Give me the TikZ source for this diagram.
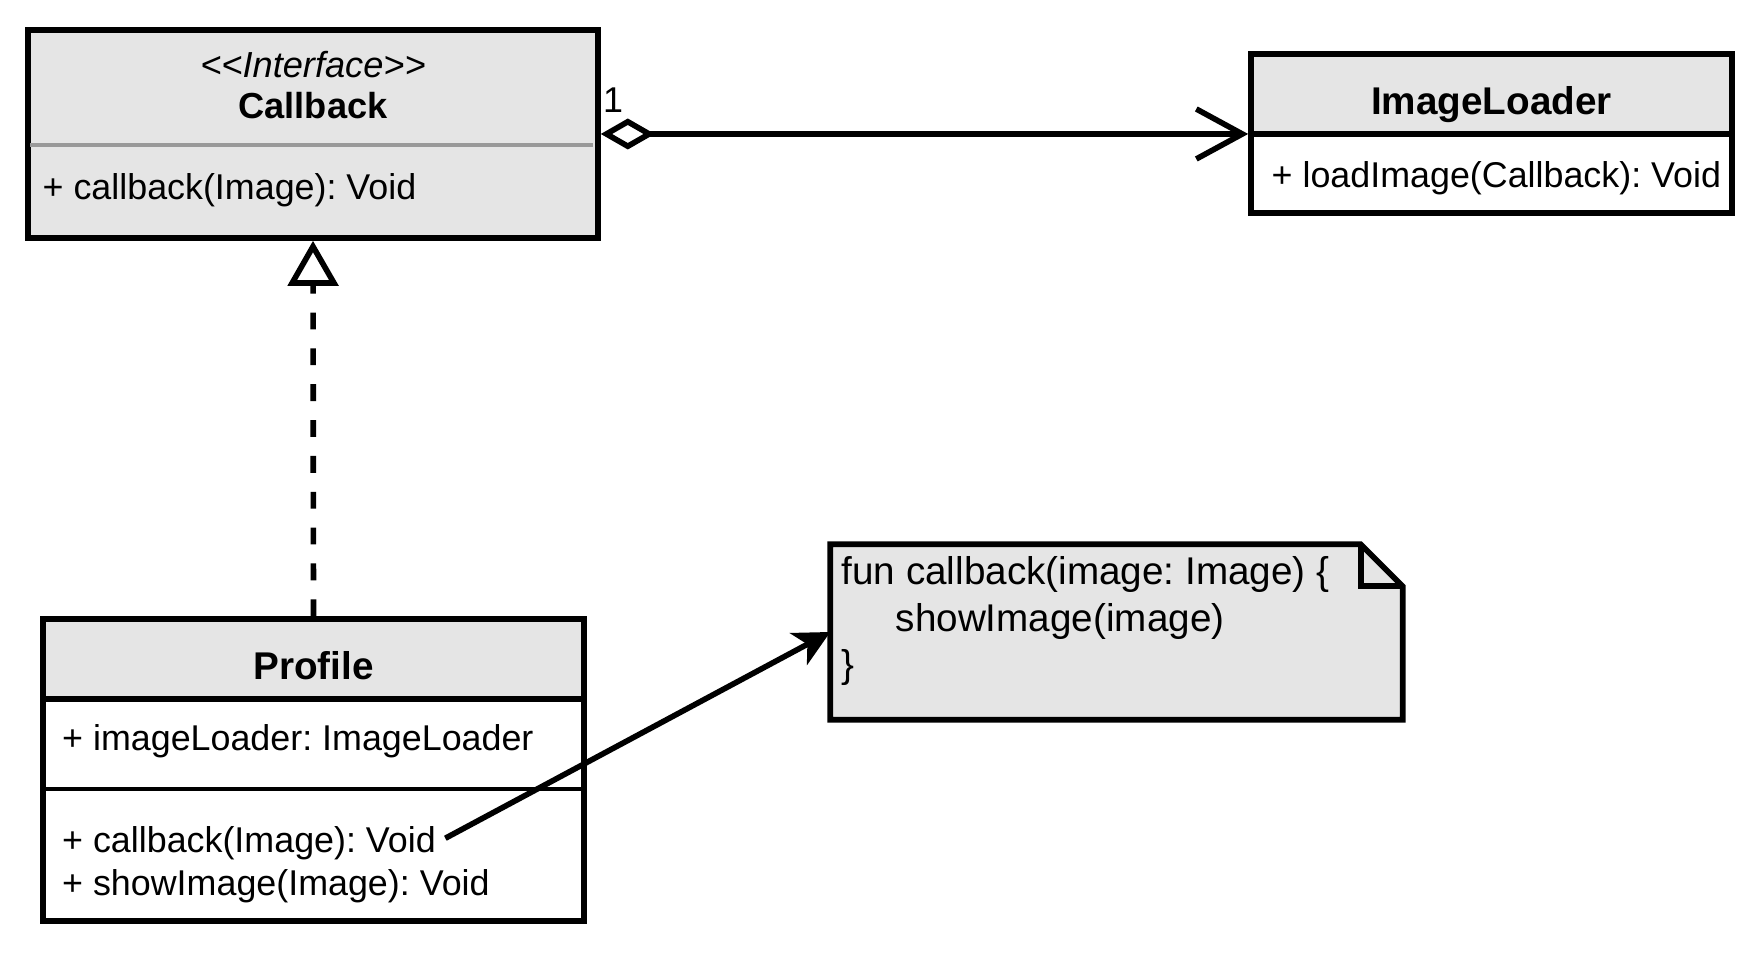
\documentclass[tikz,border=0pt]{standalone}
\usepackage{fontspec}
\setmainfont{Liberation Sans}
\usetikzlibrary{arrows.meta}
\frenchspacing

\begin{document}
\begin{tikzpicture}[
  classe/.style={draw, line width=1.6pt, inner sep=0pt},
  entete/.style={classe, fill=gray!20},
  txt/.style={font=\fontsize{10.2}{12}\selectfont, inner sep=0pt},
  titre/.style={font=\fontsize{11}{13}\selectfont\bfseries, inner sep=0pt}
]
  \useasboundingbox (0,0) rectangle (17.54,-9.54);

  % Interface Callback
  \node[entete, minimum width=5.70cm, minimum height=2.08cm] (CB) at (3.13,-1.34) {};
  \node[txt, font=\fontsize{10.3}{12}\selectfont\itshape] (CBs) at (3.13,-0.65) {<\kern0pt<Interface>\kern0pt>};
  \node[txt, font=\fontsize{10.3}{12}\selectfont\bfseries] (CBt) at (3.13,-1.06) {Callback};
  \draw[gray!80, line width=1pt] (0.30,-1.45) -- (5.93,-1.45);
  \node[txt, anchor=west] (CBm) at (0.42,-1.90) {+ callback(Image): Void};

  % ImageLoader
  \node[entete, minimum width=4.81cm, minimum height=0.80cm] (ILH) at (14.915,-0.94) {};
  \node[classe, minimum width=4.81cm, minimum height=0.79cm] (ILB) at (14.915,-1.735) {};
  \node[titre] (ILt) at (14.915,-1.05) {ImageLoader};
  \node[txt, anchor=west] (ILm) at (12.71,-1.78) {+ loadImage(Callback): Void};

  % Profile
  \node[entete, minimum width=5.41cm, minimum height=0.80cm] (PH) at (3.135,-6.59) {};
  \node[classe, minimum width=5.41cm, minimum height=2.22cm] (PB) at (3.135,-8.10) {};
  \draw[line width=0.9pt] (0.43,-7.89) -- (5.84,-7.89);
  \node[titre] (Pt) at (3.135,-6.66) {Profile};
  \node[txt, anchor=west] (PA) at (0.615,-7.41) {+ imageLoader: ImageLoader};
  \node[txt, anchor=west] (PC) at (0.615,-8.43) {+ callback(Image): Void};
  \node[txt, anchor=west] (PS) at (0.615,-8.86) {+ showImage(Image): Void};

  % Note
  \node[minimum width=5.71cm, minimum height=1.74cm, inner sep=0pt] (N) at (11.165,-6.32) {};
  \draw[line width=1.6pt, fill=gray!20] (N.north west) -- ([xshift=-4.2mm]N.north east)
    -- ([yshift=-4.2mm]N.north east) -- (N.south east) -- (N.south west) -- cycle;
  \draw[line width=1.6pt] ([xshift=-4.2mm]N.north east) |- ([yshift=-4.2mm]N.north east);
  \node[anchor=north west, align=left, inner sep=0pt, font=\fontsize{11}{13.2}\selectfont] (NT) at (8.41,-5.56)
    {fun callback(image: Image) \{\\\hspace{5.4mm}showImage(image)\\\}};

  % Liens
  \node[txt] (M) at (6.13,-1.00) {1};
  \draw[line width=1.6pt, {Diamond[open,length=5.4mm,width=3.1mm]}-{Straight Barb[length=4.6mm,width=5mm]}]
    (CB.east) -- (CB.east -| ILH.west);
  \draw[line width=1.6pt, dash pattern=on 4.8pt off 5.4pt, -{Triangle[open,length=4.5mm,width=5mm]}]
    (PH.north) -- (CB.south);
  \draw[line width=1.6pt, shorten <=1mm, -{Stealth[length=3.6mm,width=3.6mm,inset=1mm]}]
    (PC.east) -- (N.west);
\end{tikzpicture}
\end{document}
